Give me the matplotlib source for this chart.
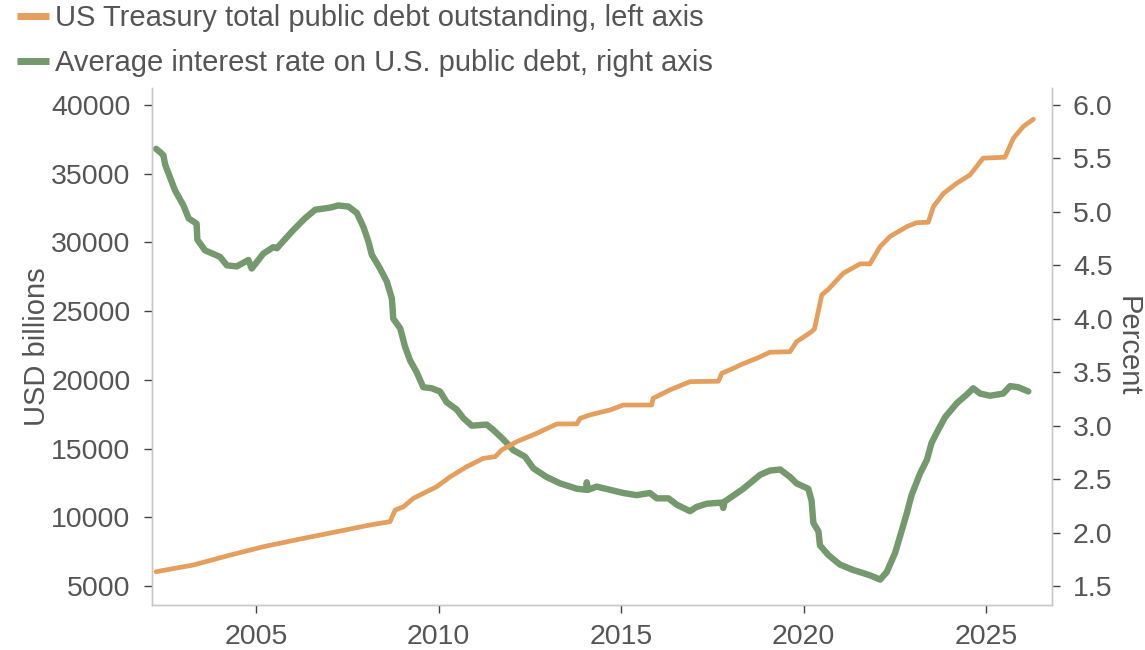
import numpy as np
import matplotlib
matplotlib.use('Agg')
import matplotlib.pyplot as plt

plt.rcParams['font.family'] = ['Liberation Sans', 'DejaVu Sans']

# US Treasury total public debt outstanding (USD billions), left axis
debt_years = [2002.26, 2003.28, 2004.29, 2005.20, 2006.30, 2007.21, 2008.12, 2008.67, 2008.81,
              2009.04, 2009.31, 2009.95, 2010.32, 2010.77, 2011.23, 2011.55, 2011.73, 2012.14,
              2012.69, 2013.24, 2013.79, 2013.88, 2014.15, 2014.70, 2015.06, 2015.84, 2015.88,
              2016.34, 2016.89, 2017.67, 2017.76, 2018.08, 2018.26, 2018.72, 2019.08, 2019.63,
              2019.81, 2020.09, 2020.22, 2020.30, 2020.50, 2020.68, 2021.09, 2021.55, 2021.82,
              2022.10, 2022.37, 2022.83, 2023.10, 2023.42, 2023.56, 2023.84, 2024.20, 2024.56,
              2024.92, 2025.52, 2025.75, 2026.02, 2026.30]
debt = [6040, 6530, 7250, 7860, 8470, 8950, 9440, 9680, 10530,
        10770, 11380, 12230, 12950, 13680, 14290, 14410, 14900, 15500,
        16110, 16790, 16800, 17200, 17450, 17810, 18170, 18170, 18660,
        19270, 19870, 19900, 20480, 20840, 21080, 21570, 22010, 22050,
        22780, 23270, 23510, 23700, 26180, 26590, 27760, 28440, 28440,
        29700, 30430, 31150, 31440, 31470, 32610, 33580, 34310, 34910,
        36130, 36200, 37580, 38430, 38970]

# Average interest rate on U.S. public debt (percent), right axis
rate_years = [2002.26, 2002.40, 2002.46, 2002.51, 2002.78, 2003.01, 2003.15, 2003.37, 2003.39,
              2003.60, 2004.01, 2004.20, 2004.47, 2004.79, 2004.88, 2005.20, 2005.47, 2005.57,
              2006.02, 2006.34, 2006.62, 2007.03, 2007.25, 2007.53, 2007.76, 2007.94, 2008.08,
              2008.17, 2008.38, 2008.58, 2008.72, 2008.76, 2008.95, 2009.08, 2009.22, 2009.40,
              2009.58, 2009.81, 2010.04, 2010.22, 2010.50, 2010.68, 2010.91, 2011.32, 2011.50,
              2011.78, 2012.05, 2012.37, 2012.60, 2012.96, 2013.33, 2013.79, 2014.04, 2014.06,
              2014.10, 2014.33, 2014.70, 2015.06, 2015.43, 2015.79, 2015.98, 2016.30, 2016.53,
              2016.89, 2017.07, 2017.35, 2017.76, 2017.80, 2017.84, 2018.35, 2018.81, 2019.08,
              2019.36, 2019.63, 2019.81, 2020.13, 2020.22, 2020.27, 2020.41, 2020.45, 2020.68,
              2021.00, 2021.36, 2021.64, 2021.82, 2022.10, 2022.28, 2022.51, 2022.64, 2022.83,
              2022.96, 2023.19, 2023.38, 2023.51, 2023.69, 2023.88, 2024.20, 2024.47, 2024.65,
              2024.84, 2025.11, 2025.47, 2025.66, 2025.88, 2026.16]
rate = [5.59, 5.55, 5.53, 5.44, 5.20, 5.06, 4.94, 4.89, 4.74,
        4.64, 4.58, 4.50, 4.49, 4.55, 4.47, 4.61, 4.67, 4.66,
        4.83, 4.94, 5.02, 5.04, 5.06, 5.05, 4.99, 4.86, 4.72,
        4.60, 4.48, 4.35, 4.19, 4.00, 3.91, 3.74, 3.61, 3.50,
        3.36, 3.35, 3.32, 3.22, 3.15, 3.07, 3.00, 3.01, 2.96,
        2.87, 2.77, 2.71, 2.60, 2.52, 2.46, 2.41, 2.40, 2.47,
        2.40, 2.43, 2.40, 2.37, 2.35, 2.37, 2.32, 2.32, 2.26,
        2.20, 2.24, 2.27, 2.28, 2.23, 2.29, 2.41, 2.54, 2.58,
        2.59, 2.52, 2.46, 2.41, 2.30, 2.09, 2.01, 1.88, 1.79,
        1.70, 1.65, 1.62, 1.60, 1.56, 1.63, 1.81, 1.96, 2.18,
        2.35, 2.55, 2.68, 2.84, 2.96, 3.08, 3.21, 3.29, 3.35,
        3.30, 3.28, 3.30, 3.37, 3.36, 3.32]

left_ticks = [5000, 10000, 15000, 20000, 25000, 30000, 35000, 40000]
right_ticks = [1.5, 2.0, 2.5, 3.0, 3.5, 4.0, 4.5, 5.0, 5.5, 6.0]
year_ticks = [2005, 2010, 2015, 2020, 2025]

orange = '#E59E5C'
green = '#74996C'
txt = '#555555'
spine_c = '#C8C8C8'

fig = plt.figure(figsize=(11.45, 6.5), dpi=100)
ax = fig.add_axes([0.1325, 0.0692, 0.786, 0.7954])
ax2 = ax.twinx()

ax2.plot(rate_years, rate, '-', color=green, linewidth=4.6,
         solid_joinstyle='round', solid_capstyle='round', zorder=2)
ax.plot(debt_years, debt, '-', color=orange, linewidth=3.4,
        solid_joinstyle='round', solid_capstyle='round', zorder=3)
ax.set_zorder(ax2.get_zorder() + 1)
ax.patch.set_visible(False)

ax.set_xlim(2002.14, 2026.80)
ax.set_ylim(3617, 41237)
ax2.set_ylim(1.322, 6.159)

ax.set_xticks(year_ticks)
ax.set_yticks(left_ticks)
ax2.set_yticks(right_ticks)
ax2.set_yticklabels(['%.1f' % v for v in right_ticks])

for a in (ax, ax2):
    for s in a.spines.values():
        s.set_color(spine_c)
        s.set_linewidth(1.0)
    a.spines['top'].set_visible(False)
    a.tick_params(axis='y', colors='#444444', labelcolor=txt, labelsize=20.5,
                  length=5.8, width=1.0, pad=9.5)
ax.tick_params(axis='x', colors='#444444', labelcolor=txt, labelsize=20.5,
               length=5.8, width=1.0, pad=8)

ax.set_ylabel('USD billions', fontsize=21, color=txt, labelpad=0)
ax2.set_ylabel('Percent', fontsize=21, color=txt, rotation=270, labelpad=21)

h1, = ax.plot([], [], '-', color=orange, linewidth=5, solid_capstyle='butt')
h2, = ax.plot([], [], '-', color=green, linewidth=5, solid_capstyle='butt')
fig.legend(handles=[h1, h2],
           labels=['US Treasury total public debt outstanding, left axis',
                   'Average interest rate on U.S. public debt, right axis'],
           loc='upper left', bbox_to_anchor=(0.0148, 0.994), frameon=False,
           fontsize=21, labelcolor=txt, handlelength=1.1, handletextpad=0.2,
           labelspacing=0.6, borderpad=0, borderaxespad=0)

plt.savefig('out.png', dpi=100)
